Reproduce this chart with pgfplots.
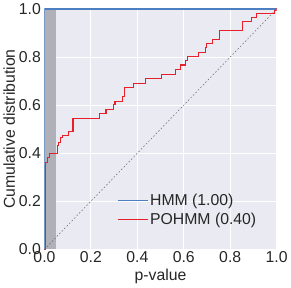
\documentclass[border=0pt]{standalone}
\usepackage{pgfplots}
\pgfplotsset{compat=1.18}
\usepackage{fontspec}
\setmainfont{Liberation Sans}
\definecolor{bgc}{HTML}{EAEAF2}
\definecolor{hmmblue}{HTML}{4C7FC0}
\definecolor{pored}{HTML}{E8202A}
\definecolor{shadegray}{HTML}{B0B0B8}
\definecolor{txt}{HTML}{262626}
\begin{document}
\begin{tikzpicture}
\begin{axis}[
  scale only axis, width=228pt, height=236pt,
  xmin=0, xmax=1, ymin=0, ymax=1,
  axis background/.style={fill=bgc},
  axis line style={draw=none},
  major tick length=0pt,
  grid=major, grid style={white, line width=1pt},
  xtick={0,0.2,0.4,0.6,0.8,1.0}, ytick={0,0.2,0.4,0.6,0.8,1.0},
  /pgf/number format/fixed, /pgf/number format/fixed zerofill, /pgf/number format/precision=1,
  /pgf/number format/assume math mode=true,
  tick label style={font=\fontsize{15.5}{17}\selectfont, text=txt},
  xticklabel style={yshift=1pt},
  label style={font=\fontsize{15.5}{17}\selectfont, text=txt},
  xlabel={p-value}, ylabel={Cumulative distribution},
  xlabel style={yshift=1pt}, ylabel style={yshift=-3pt},
  legend style={at={(0.935,0.08)}, anchor=south east, draw=none, fill=none,
    font=\fontsize{15.5}{17}\selectfont, row sep=2pt},
  legend cell align=left,
  legend image post style={xscale=1.7},
]
\fill[shadegray] (axis cs:0,0) rectangle (axis cs:0.05,1);
\addplot[forget plot, gray!80!black, dashed, dash pattern=on 1.5pt off 2pt, line width=0.5pt] coordinates {(0,0) (1,1)};
\addplot[hmmblue, line width=1.1pt, const plot] coordinates {(0,0) (0.0005,1) (1,1)};
\addlegendentry{\textcolor{txt}{HMM (1.00)}}
\addplot[pored, line width=1.1pt, const plot] coordinates {
(0,0) (0.004,0.362) (0.012,0.383) (0.02,0.40) (0.056,0.432) (0.061,0.446)
(0.07,0.467) (0.079,0.475) (0.105,0.489) (0.123,0.543) (0.236,0.564)
(0.265,0.58) (0.297,0.601) (0.304,0.616) (0.335,0.637) (0.345,0.672)
(0.384,0.69) (0.436,0.71) (0.503,0.729) (0.563,0.748) (0.586,0.767)
(0.608,0.785) (0.615,0.802) (0.664,0.82) (0.693,0.838) (0.699,0.856)
(0.722,0.873) (0.754,0.91) (0.853,0.947) (0.893,0.965) (0.914,0.983)
(0.992,0.995) (0.998,1.0) (1,1)};
\addlegendentry{\textcolor{txt}{POHMM (0.40)}}
\end{axis}
\end{tikzpicture}
\end{document}
